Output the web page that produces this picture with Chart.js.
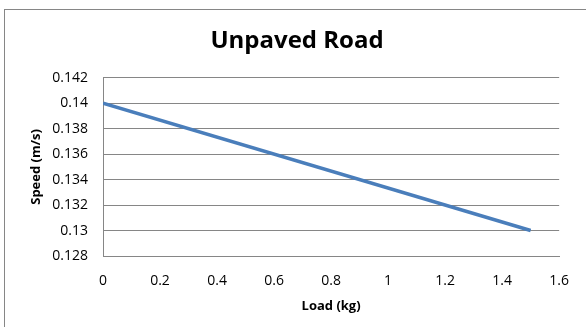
<!DOCTYPE html>
<html>
<head>
<meta charset="utf-8">
<script src="https://cdn.jsdelivr.net/npm/chart.js@4/dist/chart.umd.min.js"></script>
<style>
    html, body { margin: 0; padding: 0; background: #fff; }
    #wrap { position: relative; width: 586px; height: 327px; overflow: hidden; }
    #frame { position: absolute; left: 4px; top: 9px; width: 700px; height: 400px; border: 1px solid #868686; box-sizing: border-box; }
    #chart { position: absolute; left: 0; top: 0; }
</style>
</head>
<body>
<div id="wrap">
    <div id="frame"></div>
    <canvas id="chart" width="586" height="327"></canvas>
</div>
<script>
// data
const loads  = [ 0, 1.5 ];          // kg
const speeds = [ 0.14, 0.13 ];      // m/s

const xTicks = [ 0, 0.2, 0.4, 0.6, 0.8, 1, 1.2, 1.4, 1.6 ];
const yTicks = [ 0.128, 0.13, 0.132, 0.134, 0.136, 0.138, 0.14, 0.142 ];

const chartTitle = 'Unpaved Road';
const xTitle     = 'Load (kg)';
const yTitle     = 'Speed (m/s)';

const gridColor = '#868686';
const lineColor = '#4a7ebb';
const font      = 'Open Sans';

function fmt( v ) {
    return String( Number( v.toFixed( 3 ) ) );
}

const points = loads.map( function ( x, i ) {
    return { x: x, y: speeds[ i ] };
} );

new Chart( document.getElementById( 'chart' ).getContext( '2d' ), {
    type: 'line',
    data: {
        datasets: [ {
            data: points,
            borderColor: lineColor,
            borderWidth: 3.5,
            pointRadius: 0,
            tension: 0,
            fill: false
        } ]
    },
    options: {
        responsive: false,
        animation: false,
        layout: { padding: { left: 8, right: 0, top: 0, bottom: 0 } },
        plugins: {
            legend: { display: false },
            tooltip: { enabled: false },
            title: {
                display: true,
                text: chartTitle,
                color: '#000',
                font: { family: font, size: 24, weight: 'bold', lineHeight: 1.2 },
                padding: { top: 27, bottom: 22 }
            }
        },
        scales: {
            x: {
                type: 'linear',
                min: xTicks[ 0 ],
                max: xTicks[ xTicks.length - 1 ],
                afterBuildTicks: function ( scale ) {
                    scale.ticks = xTicks.map( function ( v ) { return { value: v }; } );
                },
                afterFit: function ( scale ) { scale.height = 71; },
                grid: { drawOnChartArea: false, drawTicks: false },
                border: { display: true, color: gridColor, width: 1 },
                ticks: {
                    color: '#000',
                    padding: 17,
                    maxRotation: 0,
                    font: { family: font, size: 14 },
                    callback: function ( v ) { return fmt( v ); }
                },
                title: {
                    display: true,
                    text: xTitle,
                    color: '#000',
                    font: { family: font, size: 13, weight: 'bold', lineHeight: 1.2 },
                    padding: { top: 0, bottom: 13 }
                }
            },
            y: {
                type: 'linear',
                min: yTicks[ 0 ],
                max: yTicks[ yTicks.length - 1 ],
                afterBuildTicks: function ( scale ) {
                    scale.ticks = yTicks.map( function ( v ) { return { value: v }; } );
                },
                afterFit: function ( scale ) { scale.width = 95; },
                grid: { color: gridColor, lineWidth: 1, drawTicks: false },
                border: { display: true, color: gridColor, width: 1 },
                ticks: {
                    color: '#000',
                    padding: 15,
                    font: { family: font, size: 14 },
                    callback: function ( v ) { return fmt( v ); }
                },
                title: {
                    display: true,
                    text: yTitle,
                    color: '#000',
                    font: { family: font, size: 13, weight: 'bold', lineHeight: 1.2 },
                    padding: { top: 20, bottom: 0 }
                }
            },
            // empty right-hand box so the plot ends where the reference's does
            yRight: {
                type: 'linear',
                position: 'right',
                display: true,
                afterFit: function ( scale ) { scale.width = 26; },
                grid: { display: false, drawTicks: false },
                border: { display: false },
                ticks: { display: false }
            }
        }
    }
} );
</script>
</body>
</html>
